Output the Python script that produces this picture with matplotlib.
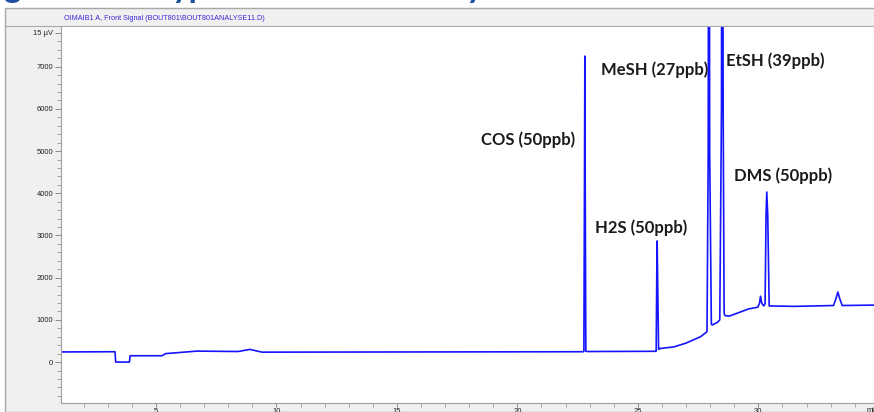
import matplotlib.pyplot as plt
from matplotlib.patches import Rectangle
from matplotlib.ticker import MultipleLocator, FixedLocator

# chromatogram trace (time in min, signal)
times = [1.06, 3.30, 3.33, 3.90, 3.93, 5.25, 5.40, 6.70, 8.40, 8.90, 9.40,
         22.72, 22.76, 22.785, 22.80, 22.815, 22.84, 22.90,
         25.72, 25.76, 25.785, 25.80, 25.82, 25.86, 25.90,
         26.5, 27.0, 27.6, 27.87, 27.92, 27.95, 27.98, 28.05, 28.08,
         28.30, 28.40, 28.47, 28.50, 28.54, 28.58, 28.62, 28.80,
         29.60, 29.98, 30.05, 30.09, 30.14, 30.22, 30.28, 30.32, 30.35, 30.39, 30.45,
         31.5, 33.12, 33.22, 33.30, 33.38, 33.48, 34.8]
signal = [240, 245, 0, 0, 150, 150, 200, 260, 250, 300, 235,
          245, 250, 4300, 7250, 4300, 260, 250,
          255, 260, 2100, 2870, 2000, 300, 320,
          360, 450, 600, 720, 5000, 20000, 5000, 900, 880,
          940, 1000, 6000, 20000, 6000, 1150, 1100, 1090,
          1260, 1300, 1400, 1560, 1400, 1330, 1380, 3480, 4030, 3480, 1330,
          1320, 1340, 1500, 1660, 1500, 1340, 1350]

peak_names = ['COS (50ppb)', 'H2S (50ppb)', 'MeSH (27ppb)', 'EtSH (39ppb)', 'DMS (50ppb)']
label_t = [20.44, 25.13, 25.71, 30.69, 31.02]
label_v = [5280, 3180, 6920, 7130, 4410]

major_y = [0, 1000, 2000, 3000, 4000, 5000, 6000, 7000, 7800]
major_y_labels = ['0', '1000', '2000', '3000', '4000', '5000', '6000', '7000', '15 µV']
major_x = [5, 10, 15, 20, 25, 30]

W, H = 874, 412
fig = plt.figure(figsize=(W / 100, H / 100), dpi=100)
fig.patch.set_facecolor('white')

# ChemStation-like window frame
fig.patches.append(Rectangle((5 / W, 0), 1, (H - 8) / H, transform=fig.transFigure,
                             facecolor='#f0f0f0', edgecolor='#a8a8a8', lw=1, zorder=-5))
fig.add_artist(plt.Line2D([5 / W, 1], [(H - 26) / H] * 2, color='#a8a8a8', lw=0.8,
                          zorder=-4))
fig.text(64 / W, (H - 18) / H, 'OIMAIB1 A, Front Signal (BOUT801\\BOUT801ANALYSE11.D)',
         fontsize=5.2, color='#3b2ad6', va='center', family='Liberation Sans')

# cut-off slide heading, only the descenders show
for x, s in [(3, 'g'), (172, 'yp'), (466, 'y')]:
    fig.text(x / W, 1 + 2 / H, s, fontsize=24, fontweight='bold', color='#1f4e9e',
             va='baseline', family='Lato')

ax = fig.add_axes([61 / W, 9 / H, (W - 61) / W, (403 - 27) / H])
ax.set_zorder(2)
ax.set_facecolor('white')
ax.plot(times, signal, color='#1414ff', lw=1.2)

ax.set_xlim(1.06, 34.8)
ax.set_ylim(-970, 7940)

ax.xaxis.set_major_locator(FixedLocator(major_x))
ax.xaxis.set_minor_locator(MultipleLocator(1))
ax.yaxis.set_major_locator(FixedLocator(major_y))
ax.set_yticklabels(major_y_labels)
ax.yaxis.set_minor_locator(MultipleLocator(200))

for sp in ['top', 'right']:
    ax.spines[sp].set_visible(False)
for sp in ['left', 'bottom']:
    ax.spines[sp].set_color('#a0a0a0')
    ax.spines[sp].set_linewidth(0.8)

ax.tick_params(which='major', length=4.5, width=0.7, color='#888888',
               labelsize=5.5, labelcolor='#222222', pad=1.2)
ax.tick_params(axis='x', which='major', length=3, pad=0.3)
ax.tick_params(which='minor', length=3, width=0.6, color='#999999')
for lbl in ax.get_xticklabels() + ax.get_yticklabels():
    lbl.set_family('Liberation Sans')

fig.text(867 / W, 2 / H, 'mi', fontsize=5.5, color='#222222', va='center',
         family='Liberation Sans')

for name, t, v in zip(peak_names, label_t, label_v):
    ax.text(t, v, name, ha='center', va='center', fontsize=12,
            fontweight='bold', color='#1a1a1a', family='Lato')

fig.savefig('out.png', dpi=100)
